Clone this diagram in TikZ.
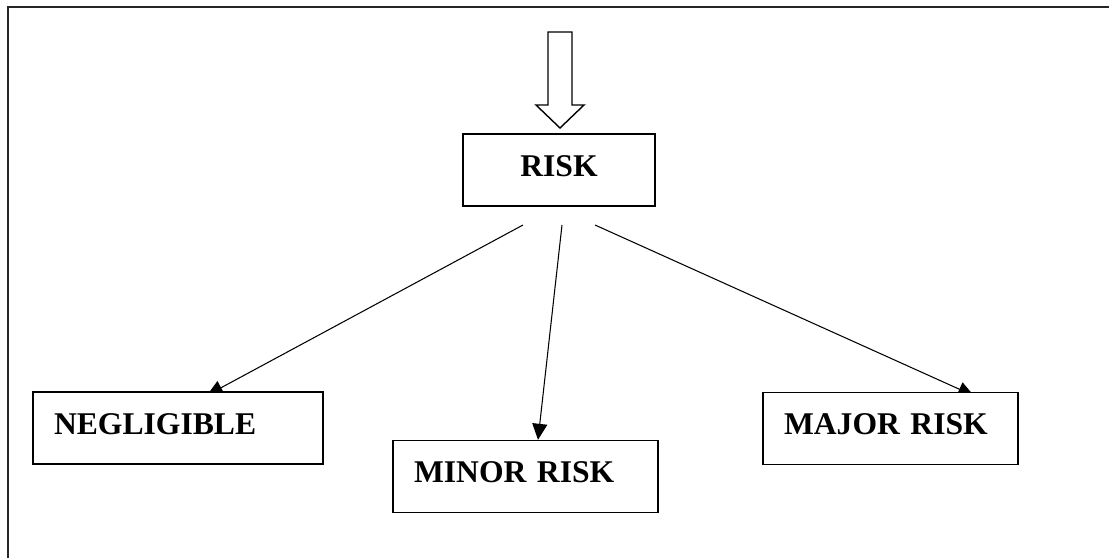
\documentclass[tikz,border=0pt]{standalone}
\usepackage{fontspec}
\setmainfont{Liberation Serif}
\usetikzlibrary{arrows.meta,backgrounds}

\begin{document}
\begin{tikzpicture}[x=0.02cm, y=-0.02cm]

\def\boxline{0.8pt}
\def\textsize{18}
\tikzset{riskbox/.style={draw, fill=white, line width=\boxline, inner xsep=0.42cm, inner ysep=0pt, text height=0.84cm, text depth=0.6cm, font=\fontsize{\textsize}{20}\selectfont\bfseries}}

\useasboundingbox (0,0) rectangle (1109,558);

\draw[line width=1.1pt, black!85] (8,558) -- (8,7) -- (1109,7);

\node[riskbox, text width=3.0cm, align=center] (risk) at (559,170) {RISK};
\node[riskbox, text width=4.96cm, align=left] (negligible) at (178,428) {NEGLIGIBLE};
\node[riskbox, text width=4.46cm, align=left] (minor) at (525.5,476.5) {MINOR RISK};
\node[riskbox, text width=4.26cm, align=left] (major) at (890.5,428.5) {MAJOR RISK};

\coordinate (outN) at (523,225);
\coordinate (outM) at (562,225);
\coordinate (outJ) at (595,225);
\coordinate (intip) at (560,128);

\draw[line width=\boxline, fill=white] (intip) -- ++(-24,-23) -- ++(12,0) -- ++(0,-73) -- ++(24,0) -- ++(0,73) -- ++(12,0) -- cycle;

\begin{scope}[on background layer]
\draw[line width=0.6pt, -{Triangle[length=0.32cm, width=0.3cm]}] (outN) -- ([xshift=0.58cm, yshift=-0.08cm]negligible.north);
\draw[line width=0.6pt, -{Triangle[length=0.32cm, width=0.3cm]}] (outM) -- ([xshift=0.25cm]minor.north);
\draw[line width=0.6pt, -{Triangle[length=0.32cm, width=0.3cm]}] (outJ) -- ([xshift=1.67cm, yshift=-0.08cm]major.north);
\end{scope}

\end{tikzpicture}
\end{document}
